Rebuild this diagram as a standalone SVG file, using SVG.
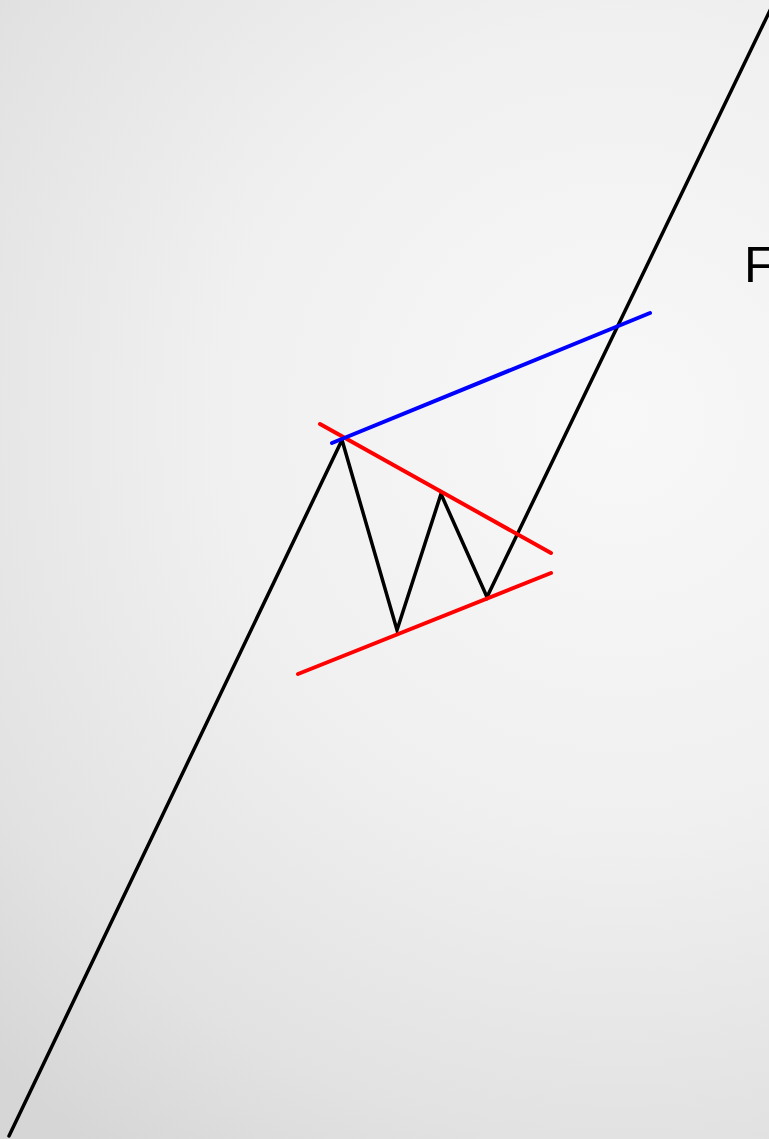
<svg xmlns="http://www.w3.org/2000/svg" width="769" height="1139" viewBox="0 0 769 1139">
<defs>
<radialGradient id="bg" cx="620" cy="420" r="900" gradientUnits="userSpaceOnUse">
<stop offset="0" stop-color="#f8f8f8"/>
<stop offset="0.45" stop-color="#f0f0f0"/>
<stop offset="0.8" stop-color="#e2e2e2"/>
<stop offset="1" stop-color="#d6d6d6"/>
</radialGradient>
<style>
.price{fill:none;stroke:#000;stroke-width:3.5;stroke-linejoin:miter;stroke-linecap:round}
.red{stroke:#ff0000;stroke-width:4;stroke-linecap:round}
.blue{stroke:#0000ff;stroke-width:4;stroke-linecap:round}
.lbl{font-family:"Liberation Sans",Arial,sans-serif;font-size:50px;fill:#000}
</style>
</defs>
<rect width="769" height="1139" fill="url(#bg)"/>
<g id="connectors">
<polyline class="price" points="9,1136 342,440 397,630 441,494 487,597 775,0"/>
<line class="red" x1="320" y1="424" x2="551" y2="553"/>
<line class="red" x1="298" y1="674" x2="551" y2="573"/>
<line class="blue" x1="332" y1="443" x2="650" y2="313"/>
</g>
<g id="label">
<text class="lbl" x="744" y="282">F</text>
</g>
</svg>
